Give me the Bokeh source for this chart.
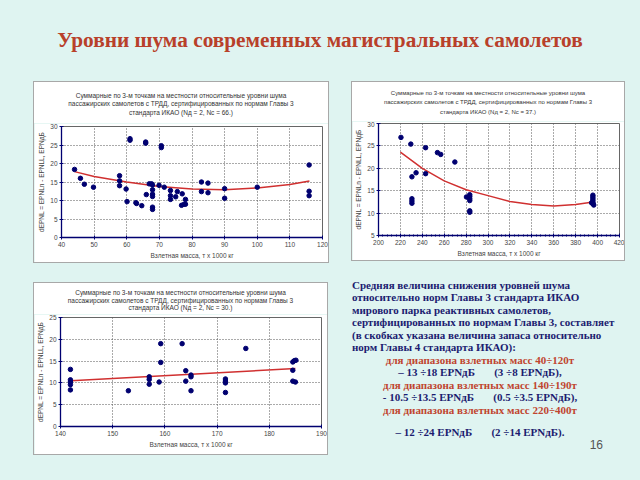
from bokeh.plotting import figure
from bokeh.layouts import column, row
from bokeh.models import Div, Spacer, SingleIntervalTicker, Range1d
from bokeh.embed import file_html
from bokeh.resources import INLINE

# ---------------- data ----------------
SLIDE_TITLE = "Уровни шума современных магистральных самолетов"
CHART_TITLE_1 = "Суммарные по 3-м точкам на местности относительные уровни шума"
CHART_TITLE_2 = "пассажирских самолетов с ТРДД, сертифицированных по нормам Главы 3"
NOTE_1 = "стандарта ИКАО (Nд = 2, Nc = 66.)"
NOTE_2 = "стандарта ИКАО (Nд = 2, Nc = 37.)"
NOTE_3 = "стандарта ИКАО (Nд = 2, Nc = 30.)"
X_LABEL = "Взлетная масса, т х 1000 кг"
Y_LABEL = "dEPNL = EPNLn - EPNLL, EPNдБ"

# chart 1: 40..120 t
m1 = [44.0, 45.8, 47.0, 49.8, 57.8, 57.8, 57.8, 59.8, 60.1, 61.0, 61.0, 62.8, 63.0, 64.6,
      65.8, 65.8, 66.0, 66.9, 67.6, 67.9, 67.9, 67.9, 67.9, 67.9, 67.9, 69.9, 70.6, 70.6,
      71.5, 73.4, 73.4, 73.4, 75.0, 75.5, 77.0, 76.8, 77.6, 78.0, 78.0, 82.9, 82.9, 84.9,
      84.9, 90.0, 90.0, 100.0, 115.9, 115.9, 115.9]
d1 = [18.4, 16.0, 14.4, 13.6, 16.7, 15.3, 14.0, 13.1, 9.7, 26.7, 26.3, 9.4, 9.2, 8.6,
      25.8, 25.5, 11.6, 14.5, 14.5, 14.2, 12.9, 11.7, 11.1, 8.2, 7.6, 14.1, 24.8, 24.3,
      13.6, 12.7, 11.3, 10.3, 11.0, 12.4, 11.8, 8.7, 9.0, 10.3, 9.0, 15.0, 12.4, 14.7,
      12.1, 13.2, 10.6, 13.6, 19.6, 12.5, 11.3]
trend1_m = [44, 50, 60, 70, 80, 90, 100, 110, 116]
trend1_d = [17.8, 16.5, 15.0, 13.8, 13.1, 12.9, 13.4, 14.3, 15.3]

# chart 2: 220..400 t
m2 = [220.5, 229.5, 230.5, 230.5, 230.5, 230.5, 234.3, 243.0, 243.0, 253.8, 256.8, 269.7,
      280.3, 283.3, 283.3, 283.3, 283.3, 283.3, 283.3, 395.7, 395.7, 395.7, 395.7, 395.7,
      395.7, 396.5, 394.5]
d2 = [26.9, 25.4, 18.1, 13.2, 12.7, 12.2, 19.0, 24.6, 18.8, 23.5, 23.1, 21.4,
      13.6, 14.1, 13.7, 13.2, 12.8, 10.5, 10.2, 14.0, 13.6, 13.2, 12.8, 12.4,
      12.1, 11.8, 12.3]
trend2_m = [220, 240, 260, 280, 300, 320, 340, 360, 380, 396]
trend2_d = [23.6, 20.0, 17.2, 15.2, 13.9, 12.6, 11.9, 11.6, 11.9, 12.5]

# chart 3: 140..190 t
m3 = [141.9, 141.9, 141.9, 141.9, 141.9, 153.0, 157.0, 157.0, 157.0, 158.9, 159.2, 159.2,
      163.3, 164.0, 164.0, 165.0, 165.0, 165.0, 171.6, 171.6, 171.6, 171.6, 175.5, 184.5,
      184.8, 185.1, 184.5, 184.5, 185.0]
d3 = [13.1, 10.7, 10.2, 9.6, 8.4, 8.2, 11.4, 10.8, 9.7, 10.2, 19.0, 14.7,
      19.0, 12.8, 10.4, 11.8, 11.4, 8.2, 10.9, 10.4, 10.0, 7.8, 17.9, 14.8,
      15.1, 15.2, 12.9, 10.4, 10.2]
trend3_m = [142, 185]
trend3_d = [10.5, 13.3]

TEXT_LINES = [
    "Средняя величина снижения уровней шума",
    "относительно норм Главы 3 стандарта ИКАО",
    "мирового парка реактивных самолетов,",
    "сертифицированных по нормам Главы 3, составляет",
    "(в скобках указана величина запаса относительно",
    "норм Главы 4 стандарта ИКАО):",
]
RANGE_LINES = [
    ("для диапазона взлетных масс 40÷120т", "– 13 ÷18 EPNдБ", "(3 ÷8 EPNдБ),"),
    ("для диапазона взлетных масс 140÷190т", "- 10.5 ÷13.5 EPNдБ", "(0.5 ÷3.5 EPNдБ),"),
    ("для диапазона взлетных масс 220÷400т", "– 12 ÷24 EPNдБ", "(2 ÷14 EPNдБ)."),
]
PAGE_NUMBER = "16"

# ---------------- styles ----------------
BG = "#dff4f1"
NAVY = "#000070"
RED = "#d03030"
SANS = "Liberation Sans"
SERIF = "Liberation Serif"


def chart_box(note, xs, ys, tx, ty, xr, yr, xstep, ystep, width, title_h, fig_h,
              pad_top, line_h, font_px, borders, minor=0):
    lines = [CHART_TITLE_1, CHART_TITLE_2, note]
    title = Div(
        text=(f'<div style="width:{width}px;text-align:center;font-family:{SANS};'
              f'font-size:{font_px}px;line-height:{line_h}px;color:#333;'
              f'padding-top:{pad_top}px;white-space:nowrap">' + "<br>".join(lines) + "</div>"),
        width=width, height=title_h, margin=0, styles={"background-color": "white"})
    bl, br, bt, bb = borders
    p = figure(width=width, height=fig_h, x_range=Range1d(*xr), y_range=Range1d(*yr),
               output_backend="svg", toolbar_location=None,
               min_border_left=bl, min_border_right=br, min_border_top=bt, min_border_bottom=bb)
    p.background_fill_color = "white"
    p.border_fill_color = "white"
    p.outline_line_color = "#666666"
    p.outline_line_width = 1
    p.xaxis.ticker = SingleIntervalTicker(interval=xstep, num_minor_ticks=minor if minor else 1)
    p.yaxis.ticker = SingleIntervalTicker(interval=ystep, num_minor_ticks=1)
    for ax in (p.xaxis, p.yaxis):
        ax.axis_line_color = NAVY
        ax.axis_line_width = 1.3
        ax.major_tick_line_color = NAVY
        ax.major_tick_in = 2
        ax.major_tick_out = 2
        ax.minor_tick_line_color = NAVY if minor else None
        ax.minor_tick_in = 1
        ax.minor_tick_out = 1
        ax.major_label_text_font = SANS
        ax.major_label_text_font_size = "6.5px"
        ax.major_label_text_color = "#444"
        ax.major_label_standoff = 2
        ax.axis_label_text_font = SANS
        ax.axis_label_text_font_size = "6.5px"
        ax.axis_label_text_font_style = "normal"
        ax.axis_label_text_color = "#444"
        ax.axis_label_standoff = 2
    p.yaxis.minor_tick_line_color = None
    p.xaxis.axis_label = X_LABEL
    p.yaxis.axis_label = Y_LABEL
    for g in (p.xgrid, p.ygrid):
        g.grid_line_color = "#555555"
        g.grid_line_dash = "1 2"
        g.grid_line_width = 1
    p.line(tx, ty, line_color=RED, line_width=1.5)
    p.scatter(xs, ys, size=4.5, fill_color=NAVY, line_color=NAVY)
    return column(title, p, styles={"outline": "1px solid #a8a8a8"})


box1 = chart_box(NOTE_1, m1, d1, trend1_m, trend1_d, (40, 120), (0, 30), 10, 5,
                 294, 41, 139, 9.5, 8.7, 6.5, (27, 6, 3, 25))
box2 = chart_box(NOTE_2, m2, d2, trend2_m, trend2_d, (200, 420), (5, 30), 20, 5,
                 272, 39, 139, 6.5, 9.5, 6, (22, 5, 2, 25), minor=5)
box3 = chart_box(NOTE_3, m3, d3, trend3_m, trend3_d, (140, 190), (0, 25), 10, 5,
                 293, 31, 140, 5.8, 7.8, 6.5, (20, 6, 3, 28))

title_div = Div(
    text=(f'<div style="width:640px;text-align:center;font-family:{SERIF};font-weight:bold;'
          f'font-size:21.3px;line-height:24px;color:#b8402a;padding-top:28px;white-space:nowrap">'
          f'{SLIDE_TITLE}</div>'),
    width=640, height=82, margin=0)

html = [f'<div style="box-sizing:border-box;font-family:{SERIF};font-weight:bold;font-size:11px;'
        f'color:#1c1c70;padding-top:16.75px;padding-left:25px;width:281px;white-space:nowrap">']
for ln in TEXT_LINES:
    html.append(f'<div style="height:12.5px;line-height:12.5px">{ln}</div>')
for i, (rng, val, res) in enumerate(RANGE_LINES):
    html.append(f'<div style="height:12.5px;line-height:12.5px;text-align:center;color:#c0452f">{rng}</div>')
    if i == 2:
        html.append('<div style="height:9.8px"></div>')
    sp = "&nbsp;" * 7
    html.append(f'<div style="height:12.5px;line-height:12.5px;text-align:center">{val}{sp}{res}</div>')
html.append(f'<div style="height:12.7px;line-height:12.7px;text-align:right;padding-right:5px;'
            f'font-family:{SANS};font-weight:normal;font-size:12px;color:#555">{PAGE_NUMBER}</div>')
html.append('</div>')
text_div = Div(text="".join(html), width=297, height=210, margin=0)

row1 = row(Spacer(width=34, height=180), box1, Spacer(width=24, height=180), box2,
           Spacer(width=16, height=180))
row2 = row(Spacer(width=34, height=192), column(Spacer(width=293, height=21), box3), text_div,
           Spacer(width=16, height=192))

p = column(title_div, row1, row2, Spacer(width=640, height=8), styles={"background-color": BG})

open("out.html", "w").write(file_html(p, INLINE))
